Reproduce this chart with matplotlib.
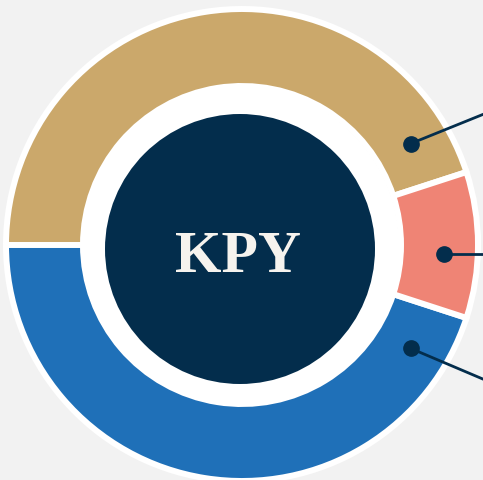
import numpy as np
import matplotlib.pyplot as plt
from matplotlib.patches import Circle

# segment shares (counter-clockwise from the right)
segments = ["Gold", "Blue", "Coral"]
shares = [45, 45, 10]
colors = ["#CBA86B", "#1F70B8", "#EF8475"]
brand = "KPY"

navy = "#032D4C"
W, H = 483, 481

fig = plt.figure(figsize=(W / 100, H / 100), dpi=100, facecolor="#F2F2F2")
ax = fig.add_axes([0, 0, 1, 1])
ax.set_facecolor("#F2F2F2")

cx, cy = 242, H - 246   # donut centre
r_out, r_in = 236, 159

ax.pie(shares, colors=colors, startangle=18, counterclock=True,
       center=(cx, cy), radius=r_out,
       wedgeprops=dict(width=r_out - r_in, edgecolor="white", linewidth=4.3))

# white hole and navy disc
ax.add_patch(Circle((cx - 2, cy - 1), r_in, facecolor="white", edgecolor="none", zorder=3))
ax.add_patch(Circle((240, H - 250), 135, facecolor=navy, edgecolor="none", zorder=4))
ax.text(238, H - 251, brand, ha="center", va="center_baseline", fontsize=43,
        fontweight="bold", family="Liberation Serif", color="#F6F3EE", zorder=5)

# callout dots with leader lines
callouts = [(31, 197, 22), (-2.5, 202, 0), (-31.5, 198, -23)]
for ang, rad, lead in callouts:
    x0 = cx + rad * np.cos(np.radians(ang))
    y0 = cy + rad * np.sin(np.radians(ang))
    x1 = W + 10
    y1 = y0 + (x1 - x0) * np.tan(np.radians(lead))
    ax.plot([x0, x1], [y0, y1], color=navy, lw=2, zorder=6, solid_capstyle="butt")
    ax.plot(x0, y0, "o", ms=11, color=navy, zorder=7)

ax.set_xlim(0, W)
ax.set_ylim(0, H)
ax.set_aspect("auto")
ax.axis("off")

fig.savefig("out.png", dpi=100, facecolor=fig.get_facecolor())
